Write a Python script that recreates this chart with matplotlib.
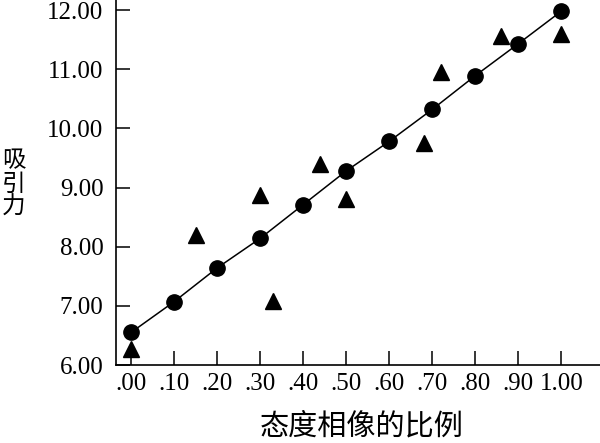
import numpy as np
import matplotlib
matplotlib.use('Agg')
import matplotlib.pyplot as plt
from matplotlib.ticker import FuncFormatter


# data
circle_x = [0.0, 0.1, 0.2, 0.3, 0.4, 0.5, 0.6, 0.7, 0.8, 0.9, 1.0]
circle_y = [6.55, 7.07, 7.64, 8.14, 8.71, 9.28, 9.78, 10.32, 10.89, 11.43, 11.98]

tri_x = [0.00, 0.15, 0.30, 0.33, 0.44, 0.50, 0.68, 0.72, 0.86, 1.00]
tri_y = [6.27, 8.19, 8.88, 7.09, 9.39, 8.81, 9.75, 10.95, 11.56, 11.59]

xticks = [0.0, 0.1, 0.2, 0.3, 0.4, 0.5, 0.6, 0.7, 0.8, 0.9, 1.0]
yticks = [6, 7, 8, 9, 10, 11, 12]

xlabel = '态度相像的比例'
ylabel = '吸\n引\n力'

plt.rcParams['font.family'] = ['Liberation Serif', 'Noto Sans CJK SC']

fig = plt.figure(figsize=(6, 4.43), dpi=100)
ax = fig.add_axes([116 / 600, 78 / 443, 484 / 600, 365 / 443])

ax.plot(circle_x, circle_y, color='black', linewidth=1.1, marker='o',
        markersize=11, zorder=3)
ax.plot(tri_x, tri_y, linestyle='none', color='black', marker='^',
        markersize=11, zorder=3)

ax.set_xlim(-0.035, 1.09)
ax.set_ylim(6.0, 12.17)

ax.set_xticks(xticks)
ax.set_yticks(yticks)


def fmt_x(v, pos):
    s = '%.2f' % v
    return s[1:] if s.startswith('0') else s


ax.xaxis.set_major_formatter(FuncFormatter(fmt_x))
ax.yaxis.set_major_formatter(FuncFormatter(lambda v, pos: '%.2f' % v))

ax.tick_params(direction='in', length=10, width=1.1, labelsize=18, pad=6)
ax.tick_params(axis='y', pad=9)

for s in ['top', 'right']:
    ax.spines[s].set_visible(False)
for s in ['left', 'bottom']:
    ax.spines[s].set_linewidth(1.2)

fig.text(362 / 600, 1 - 426 / 443, xlabel, ha='center', va='center',
         fontsize=21, family=['Noto Sans CJK SC'])
fig.text(14 / 600, 1 - 184 / 443, ylabel, ha='center', va='center',
         fontsize=17, linespacing=1.0, family=['Noto Sans CJK SC'])

fig.savefig('out.png', dpi=100)
